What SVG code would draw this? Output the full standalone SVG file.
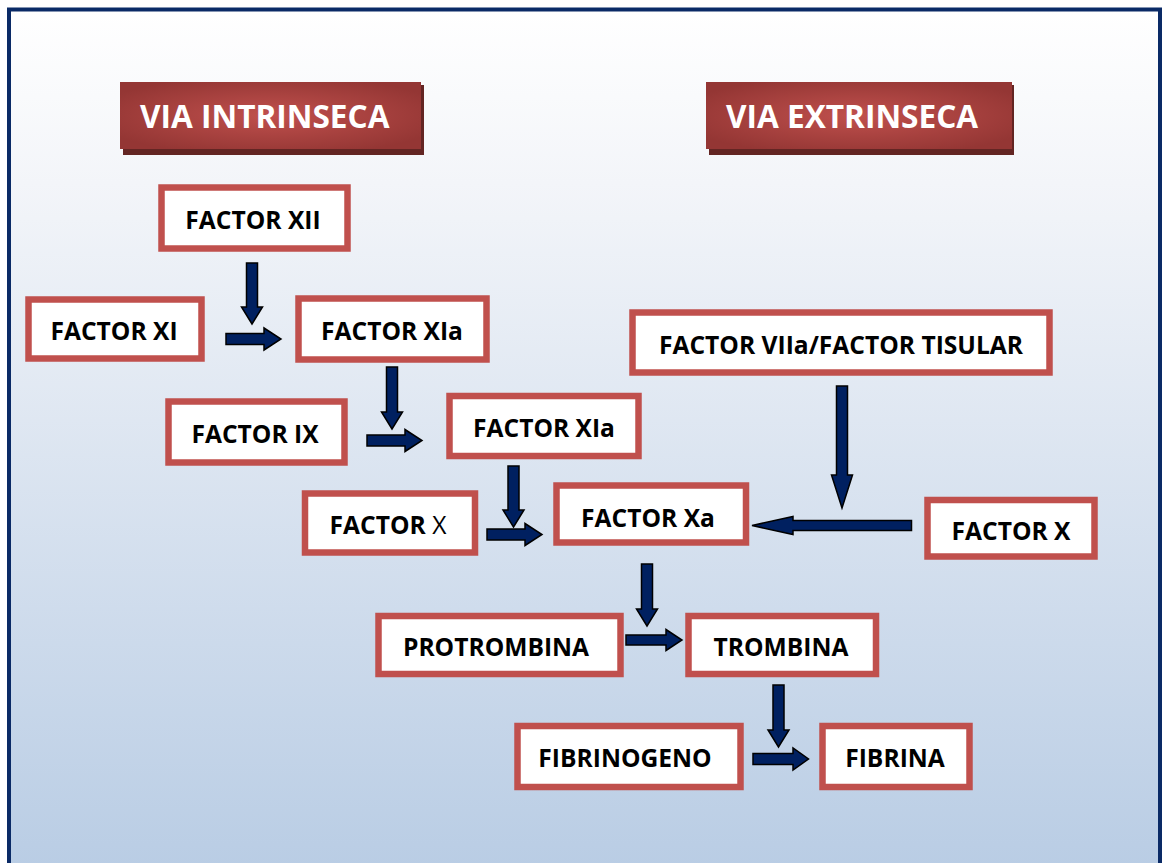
<svg xmlns="http://www.w3.org/2000/svg" width="1163" height="863" viewBox="0 0 1163 863">
<defs>
<linearGradient id="bg" x1="0" y1="0" x2="0" y2="1">
<stop offset="0" stop-color="#ffffff"/>
<stop offset="0.2" stop-color="#f3f5f9"/>
<stop offset="1" stop-color="#b8cce4"/>
</linearGradient>
<radialGradient id="tg" cx="0.5" cy="0.5" r="0.6">
<stop offset="0" stop-color="#c0504d"/>
<stop offset="1" stop-color="#943634"/>
</radialGradient>
<style>
.node rect{fill:#ffffff;stroke:#c0504d;stroke-width:6.5}
.node text{font-family:"Open Sans","Liberation Sans",sans-serif;font-weight:bold;font-size:24.6px;fill:#000000;text-anchor:middle}
.title text{font-family:"Open Sans","Liberation Sans",sans-serif;font-weight:bold;font-size:31.6px;fill:#ffffff}
.shadow{fill:#632523}
.tbox{fill:url(#tg)}
.arrow{fill:#002060;stroke:#000000;stroke-width:1.5;stroke-linejoin:miter}
</style>
</defs>
<rect x="0" y="0" width="1163" height="863" fill="#ffffff"/>
<rect x="9" y="9.5" width="1151" height="870" fill="url(#bg)" stroke="#0a2a66" stroke-width="4"/>

<g id="title-intrinseca" class="title">
<rect class="shadow" x="123" y="85" width="301" height="70"/>
<rect class="tbox" x="120" y="82" width="301" height="67"/>
<text x="140" y="128">VIA INTRINSECA</text>
</g>
<g id="title-extrinseca" class="title">
<rect class="shadow" x="709" y="85" width="305" height="70"/>
<rect class="tbox" x="706" y="82" width="306" height="67"/>
<text x="726" y="128">VIA EXTRINSECA</text>
</g>

<g id="n-xii" class="node"><rect x="161.5" y="187.5" width="186" height="61"/><text x="253" y="228.5">FACTOR XII</text></g>
<g id="n-xi" class="node"><rect x="28.5" y="299.5" width="173" height="59"/><text x="114" y="339.5">FACTOR XI</text></g>
<g id="n-xia1" class="node"><rect x="298.5" y="298.5" width="188" height="61"/><text x="392" y="339.5">FACTOR XIa</text></g>
<g id="n-ix" class="node"><rect x="168.5" y="401.5" width="176" height="61"/><text x="255" y="442.5">FACTOR IX</text></g>
<g id="n-xia2" class="node"><rect x="449.5" y="396" width="189" height="60"/><text x="544" y="436.5">FACTOR XIa</text></g>
<g id="n-x-left" class="node"><rect x="305" y="493.5" width="170" height="59"/><text x="388" y="533.5">FACTOR <tspan font-weight="normal">X</tspan></text></g>
<g id="n-xa" class="node"><rect x="556.5" y="485.5" width="189.5" height="57"/><text x="648" y="526.5">FACTOR Xa</text></g>
<g id="n-viia" class="node"><rect x="632.5" y="312.5" width="417" height="60"/><text x="841" y="353.5">FACTOR VIIa/FACTOR TISULAR</text></g>
<g id="n-x-right" class="node"><rect x="927.5" y="500" width="167" height="56.5"/><text x="1011" y="539.5">FACTOR X</text></g>
<g id="n-protrombina" class="node"><rect x="378.5" y="616" width="242" height="58"/><text x="496" y="655.5">PROTROMBINA</text></g>
<g id="n-trombina" class="node"><rect x="688.5" y="616" width="187.5" height="58"/><text x="781" y="655.5">TROMBINA</text></g>
<g id="n-fibrinogeno" class="node"><rect x="517.5" y="726" width="223" height="61"/><text x="625" y="766.5">FIBRINOGENO</text></g>
<g id="n-fibrina" class="node"><rect x="822.5" y="726" width="147" height="61"/><text x="895" y="766.5">FIBRINA</text></g>

<g id="connectors">
<polygon class="arrow" points="246.5,263 257.5,263 257.5,307 262.5,307 252,324 241.5,307 246.5,307"/>
<polygon class="arrow" points="226,333.5 264,333.5 264,328 281,339 264,350 264,344.5 226,344.5"/>
<polygon class="arrow" points="386.5,367 397.5,367 397.5,412 402.5,412 392,429 381.5,412 386.5,412"/>
<polygon class="arrow" points="367,435 405,435 405,429.5 422,440.5 405,451.5 405,446 367,446"/>
<polygon class="arrow" points="508,466 519,466 519,510 524,510 513.5,527 503,510 508,510"/>
<polygon class="arrow" points="487,529 525,529 525,523.5 542,534.5 525,545.5 525,540 487,540"/>
<polygon class="arrow" points="836.5,386 847.5,386 847.5,475 852.5,475 842,508 831.5,475 836.5,475"/>
<polygon class="arrow" points="911.5,520.5 911.5,530.5 793,530.5 793,534.5 752,525.5 793,516.5 793,520.5"/>
<polygon class="arrow" points="641.5,564 652.5,564 652.5,609 657.5,609 647,626 636.5,609 641.5,609"/>
<polygon class="arrow" points="626,635 666,635 666,629.5 682,640 666,650.5 666,645 626,645"/>
<polygon class="arrow" points="773,685 784,685 784,730 789,730 778.5,747 768,730 773,730"/>
<polygon class="arrow" points="753,753.5 793,753.5 793,748 808.5,759 793,770 793,764.5 753,764.5"/>
</g>
</svg>
